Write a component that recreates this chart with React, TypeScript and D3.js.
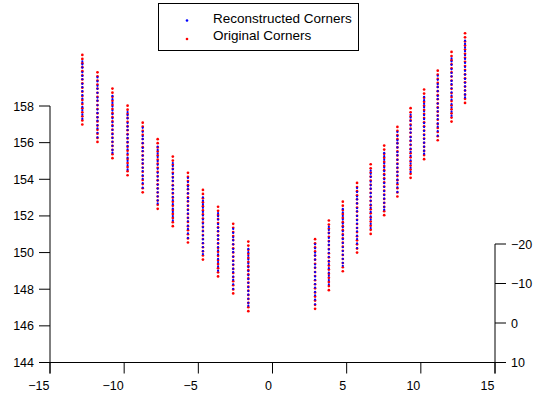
import React from 'react';
import * as d3 from 'd3';

// Column x positions (left group then right group)
const columnX = [
  -12.82, -11.8, -10.79, -9.77, -8.75, -7.74, -6.72, -5.7, -4.69, -3.67, -2.65, -1.63,
  2.87, 3.8, 4.74, 5.7, 6.62, 7.53, 8.42, 9.31, 10.22, 11.14, 12.07, 12.98,
];

// Original corners (red), y values per column
const originalY = [
  [160.79, 160.57, 160.34, 160.12, 159.9, 159.67, 159.45, 159.23, 159.0, 158.78, 158.55, 158.33, 158.11, 157.88, 157.66, 157.44, 157.21, 156.99],
  [159.84, 159.62, 159.39, 159.17, 158.95, 158.72, 158.5, 158.28, 158.05, 157.83, 157.6, 157.38, 157.16, 156.93, 156.71, 156.49, 156.26, 156.04],
  [158.95, 158.73, 158.5, 158.28, 158.06, 157.83, 157.61, 157.39, 157.16, 156.94, 156.71, 156.49, 156.27, 156.04, 155.82, 155.6, 155.37, 155.15],
  [158.02, 157.8, 157.57, 157.35, 157.13, 156.9, 156.68, 156.46, 156.23, 156.01, 155.78, 155.56, 155.34, 155.11, 154.89, 154.67, 154.44, 154.22],
  [157.09, 156.87, 156.64, 156.42, 156.2, 155.97, 155.75, 155.53, 155.3, 155.08, 154.85, 154.63, 154.41, 154.18, 153.96, 153.74, 153.51, 153.29],
  [156.19, 155.97, 155.74, 155.52, 155.3, 155.07, 154.85, 154.63, 154.4, 154.18, 153.95, 153.73, 153.51, 153.28, 153.06, 152.84, 152.61, 152.39],
  [155.24, 155.02, 154.79, 154.57, 154.35, 154.12, 153.9, 153.68, 153.45, 153.23, 153.0, 152.78, 152.56, 152.33, 152.11, 151.89, 151.66, 151.44],
  [154.35, 154.13, 153.9, 153.68, 153.46, 153.23, 153.01, 152.79, 152.56, 152.34, 152.11, 151.89, 151.67, 151.44, 151.22, 151.0, 150.77, 150.55],
  [153.42, 153.2, 152.97, 152.75, 152.53, 152.3, 152.08, 151.86, 151.63, 151.41, 151.18, 150.96, 150.74, 150.51, 150.29, 150.07, 149.84, 149.62],
  [152.5, 152.28, 152.05, 151.83, 151.61, 151.38, 151.16, 150.94, 150.71, 150.49, 150.26, 150.04, 149.82, 149.59, 149.37, 149.15, 148.92, 148.7],
  [151.57, 151.35, 151.12, 150.9, 150.68, 150.45, 150.23, 150.01, 149.78, 149.56, 149.33, 149.11, 148.89, 148.66, 148.44, 148.22, 147.99, 147.77],
  [150.6, 150.38, 150.15, 149.93, 149.71, 149.48, 149.26, 149.04, 148.81, 148.59, 148.36, 148.14, 147.92, 147.69, 147.47, 147.25, 147.02, 146.8],
  [150.73, 150.51, 150.28, 150.06, 149.84, 149.61, 149.39, 149.17, 148.94, 148.72, 148.49, 148.27, 148.05, 147.82, 147.6, 147.38, 147.15, 146.93],
  [151.75, 151.53, 151.3, 151.08, 150.86, 150.63, 150.41, 150.19, 149.96, 149.74, 149.51, 149.29, 149.07, 148.84, 148.62, 148.4, 148.17, 147.95],
  [152.78, 152.56, 152.33, 152.11, 151.89, 151.66, 151.44, 151.22, 150.99, 150.77, 150.54, 150.32, 150.1, 149.87, 149.65, 149.43, 149.2, 148.98],
  [153.8, 153.58, 153.35, 153.13, 152.91, 152.68, 152.46, 152.24, 152.01, 151.79, 151.56, 151.34, 151.12, 150.89, 150.67, 150.45, 150.22, 150.0],
  [154.82, 154.6, 154.37, 154.15, 153.93, 153.7, 153.48, 153.26, 153.03, 152.81, 152.58, 152.36, 152.14, 151.91, 151.69, 151.47, 151.24, 151.02],
  [155.84, 155.62, 155.39, 155.17, 154.95, 154.72, 154.5, 154.28, 154.05, 153.83, 153.6, 153.38, 153.16, 152.93, 152.71, 152.49, 152.26, 152.04],
  [156.86, 156.64, 156.41, 156.19, 155.97, 155.74, 155.52, 155.3, 155.07, 154.85, 154.62, 154.4, 154.18, 153.95, 153.73, 153.51, 153.28, 153.06],
  [157.88, 157.66, 157.43, 157.21, 156.99, 156.76, 156.54, 156.32, 156.09, 155.87, 155.64, 155.42, 155.2, 154.97, 154.75, 154.53, 154.3, 154.08],
  [158.9, 158.68, 158.45, 158.23, 158.01, 157.78, 157.56, 157.34, 157.11, 156.89, 156.66, 156.44, 156.22, 155.99, 155.77, 155.55, 155.32, 155.1],
  [159.93, 159.71, 159.48, 159.26, 159.04, 158.81, 158.59, 158.37, 158.14, 157.92, 157.69, 157.47, 157.25, 157.02, 156.8, 156.58, 156.35, 156.13],
  [160.95, 160.73, 160.5, 160.28, 160.06, 159.83, 159.61, 159.39, 159.16, 158.94, 158.71, 158.49, 158.27, 158.04, 157.82, 157.6, 157.37, 157.15],
  [161.97, 161.75, 161.52, 161.3, 161.08, 160.85, 160.63, 160.41, 160.18, 159.96, 159.73, 159.51, 159.29, 159.06, 158.84, 158.62, 158.39, 158.17],
];

// Reconstructed corners (blue), y values per column
const reconstructedY = [
  [160.44, 160.27, 160.09, 159.84, 159.64, 159.46, 159.21, 159.03, 158.81, 158.59, 158.41, 158.19, 157.95, 157.77, 157.54, 157.31],
  [159.56, 159.34, 159.1, 158.94, 158.72, 158.46, 158.29, 158.04, 157.81, 157.62, 157.39, 157.2, 156.96, 156.78, 156.54, 156.29],
  [158.55, 158.37, 158.17, 157.97, 157.75, 157.55, 157.33, 157.11, 156.9, 156.69, 156.46, 156.25, 156.05, 155.83, 155.61, 155.45],
  [157.67, 157.5, 157.32, 157.07, 156.87, 156.69, 156.44, 156.26, 156.04, 155.82, 155.64, 155.42, 155.18, 155.0, 154.77, 154.54],
  [156.81, 156.59, 156.35, 156.19, 155.97, 155.71, 155.54, 155.29, 155.06, 154.87, 154.64, 154.45, 154.21, 154.03, 153.79, 153.54],
  [155.79, 155.61, 155.41, 155.21, 154.99, 154.79, 154.57, 154.35, 154.14, 153.93, 153.7, 153.49, 153.29, 153.07, 152.85, 152.69],
  [154.89, 154.72, 154.54, 154.29, 154.09, 153.91, 153.66, 153.48, 153.26, 153.04, 152.86, 152.64, 152.4, 152.22, 151.99, 151.76],
  [154.07, 153.85, 153.61, 153.45, 153.23, 152.97, 152.8, 152.55, 152.32, 152.13, 151.9, 151.71, 151.47, 151.29, 151.05, 150.8],
  [153.02, 152.84, 152.64, 152.44, 152.22, 152.02, 151.8, 151.58, 151.37, 151.16, 150.93, 150.72, 150.52, 150.3, 150.08, 149.92],
  [152.15, 151.98, 151.8, 151.55, 151.35, 151.17, 150.92, 150.74, 150.52, 150.3, 150.12, 149.9, 149.66, 149.48, 149.25, 149.02],
  [151.29, 151.07, 150.83, 150.67, 150.45, 150.19, 150.02, 149.77, 149.54, 149.35, 149.12, 148.93, 148.69, 148.51, 148.27, 148.02],
  [150.2, 150.02, 149.82, 149.62, 149.4, 149.2, 148.98, 148.76, 148.55, 148.34, 148.11, 147.9, 147.7, 147.48, 147.26, 147.1],
  [150.45, 150.23, 149.99, 149.83, 149.61, 149.35, 149.18, 148.93, 148.7, 148.51, 148.28, 148.09, 147.85, 147.67, 147.43, 147.18],
  [151.4, 151.23, 151.05, 150.8, 150.6, 150.42, 150.17, 149.99, 149.77, 149.55, 149.37, 149.15, 148.91, 148.73, 148.5, 148.27],
  [152.38, 152.2, 152.0, 151.8, 151.58, 151.38, 151.16, 150.94, 150.73, 150.52, 150.29, 150.08, 149.88, 149.66, 149.44, 149.28],
  [153.52, 153.3, 153.06, 152.9, 152.68, 152.42, 152.25, 152.0, 151.77, 151.58, 151.35, 151.16, 150.92, 150.74, 150.5, 150.25],
  [154.47, 154.3, 154.12, 153.87, 153.67, 153.49, 153.24, 153.06, 152.84, 152.62, 152.44, 152.22, 151.98, 151.8, 151.57, 151.34],
  [155.44, 155.26, 155.06, 154.86, 154.64, 154.44, 154.22, 154.0, 153.79, 153.58, 153.35, 153.14, 152.94, 152.72, 152.5, 152.34],
  [156.58, 156.36, 156.12, 155.96, 155.74, 155.48, 155.31, 155.06, 154.83, 154.64, 154.41, 154.22, 153.98, 153.8, 153.56, 153.31],
  [157.53, 157.36, 157.18, 156.93, 156.73, 156.55, 156.3, 156.12, 155.9, 155.68, 155.5, 155.28, 155.04, 154.86, 154.63, 154.4],
  [158.5, 158.32, 158.12, 157.92, 157.7, 157.5, 157.28, 157.06, 156.85, 156.64, 156.41, 156.2, 156.0, 155.78, 155.56, 155.4],
  [159.65, 159.43, 159.19, 159.03, 158.81, 158.55, 158.38, 158.13, 157.9, 157.71, 157.48, 157.29, 157.05, 156.87, 156.63, 156.38],
  [160.6, 160.43, 160.25, 160.0, 159.8, 159.62, 159.37, 159.19, 158.97, 158.75, 158.57, 158.35, 158.11, 157.93, 157.7, 157.47],
  [161.57, 161.39, 161.19, 160.99, 160.77, 160.57, 160.35, 160.13, 159.92, 159.71, 159.48, 159.27, 159.07, 158.85, 158.63, 158.47],
];

const xTicks = [-15, -10, -5, 0, 5, 10, 15];
const yTicks = [144, 146, 148, 150, 152, 154, 156, 158];
const rightTicks = [-20, -10, 0, 10];
const seriesNames = ['Reconstructed Corners', 'Original Corners'];
const seriesColors = ['#0000ff', '#ff0000'];

const FONT = '"Liberation Sans", Arial, Helvetica, sans-serif';
const fmt = (d: number) => (d < 0 ? '\u2212' + Math.abs(d) : String(d));

export default function App() {
  const x = d3.scaleLinear().domain([-15, 15]).range([50, 495]);
  const y = d3.scaleLinear().domain([144, 158]).range([362.5, 106]);
  const yr = d3.scaleLinear().domain([-20, 10]).range([244, 362.5]);
  const tick = 11;
  const x0 = x(-15);
  const x1 = x(15);
  const yb = y(144);

  const redPts: [number, number][] = [];
  originalY.forEach((col, i) => col.forEach((v) => redPts.push([columnX[i], v])));
  const bluePts: [number, number][] = [];
  reconstructedY.forEach((col, i) => col.forEach((v) => bluePts.push([columnX[i], v])));

  return (
    <svg
      width={536}
      height={396}
      style={{ position: 'absolute', left: 0, top: 0, background: '#fff' }}
      fontFamily={FONT}
    >
      <rect x={0} y={0} width={536} height={396} fill="#fff" />
      {/* data */}
      <g fill={seriesColors[1]}>
        {redPts.map((p, i) => (
          <circle key={'r' + i} cx={x(p[0])} cy={y(p[1])} r={1.35} />
        ))}
      </g>
      <g fill={seriesColors[0]}>
        {bluePts.map((p, i) => (
          <circle key={'b' + i} cx={x(p[0])} cy={y(p[1])} r={1.1} />
        ))}
      </g>

      {/* axes */}
      <g stroke="#000" strokeWidth={1}>
        <line x1={x0} x2={x0} y1={y(158)} y2={yb + tick} />
        {yTicks.map((t) => (
          <line key={'yt' + t} x1={x0 - tick} x2={x0} y1={y(t)} y2={y(t)} />
        ))}
        <line x1={x0 - tick} x2={x1 + tick} y1={yb} y2={yb} />
        {xTicks.map((t) => (
          <line key={'xt' + t} x1={x(t)} x2={x(t)} y1={yb} y2={yb + tick} />
        ))}
        <line x1={x1} x2={x1} y1={yr(-20)} y2={yb + tick} />
        {rightTicks.map((t) => (
          <line key={'rt' + t} x1={x1} x2={x1 + tick} y1={yr(t)} y2={yr(t)} />
        ))}
      </g>
      <g fontSize={12.5} fill="#000">
        {yTicks.map((t) => (
          <text key={'yl' + t} x={34} y={y(t)} dy="0.36em" textAnchor="end">
            {fmt(t)}
          </text>
        ))}
        {xTicks.map((t) => (
          <text key={'xl' + t} x={x(t) - 0.5} y={390} textAnchor="end">
            {fmt(t)}
          </text>
        ))}
        {rightTicks.map((t) => (
          <text key={'rl' + t} x={511} y={yr(t)} dy="0.36em" textAnchor="start">
            {fmt(t)}
          </text>
        ))}
      </g>

      {/* legend */}
      <rect x={158.5} y={3.5} width={200} height={47} fill="#fff" stroke="#000" strokeWidth={1} />
      {seriesNames.map((name, i) => (
        <g key={name}>
          <circle cx={187} cy={20.5 + i * 18.5} r={1.3} fill={seriesColors[i]} />
          <text x={213} y={22.7 + i * 17.5} fontSize={13.5} fill="#000">
            {name}
          </text>
        </g>
      ))}
    </svg>
  );
}
